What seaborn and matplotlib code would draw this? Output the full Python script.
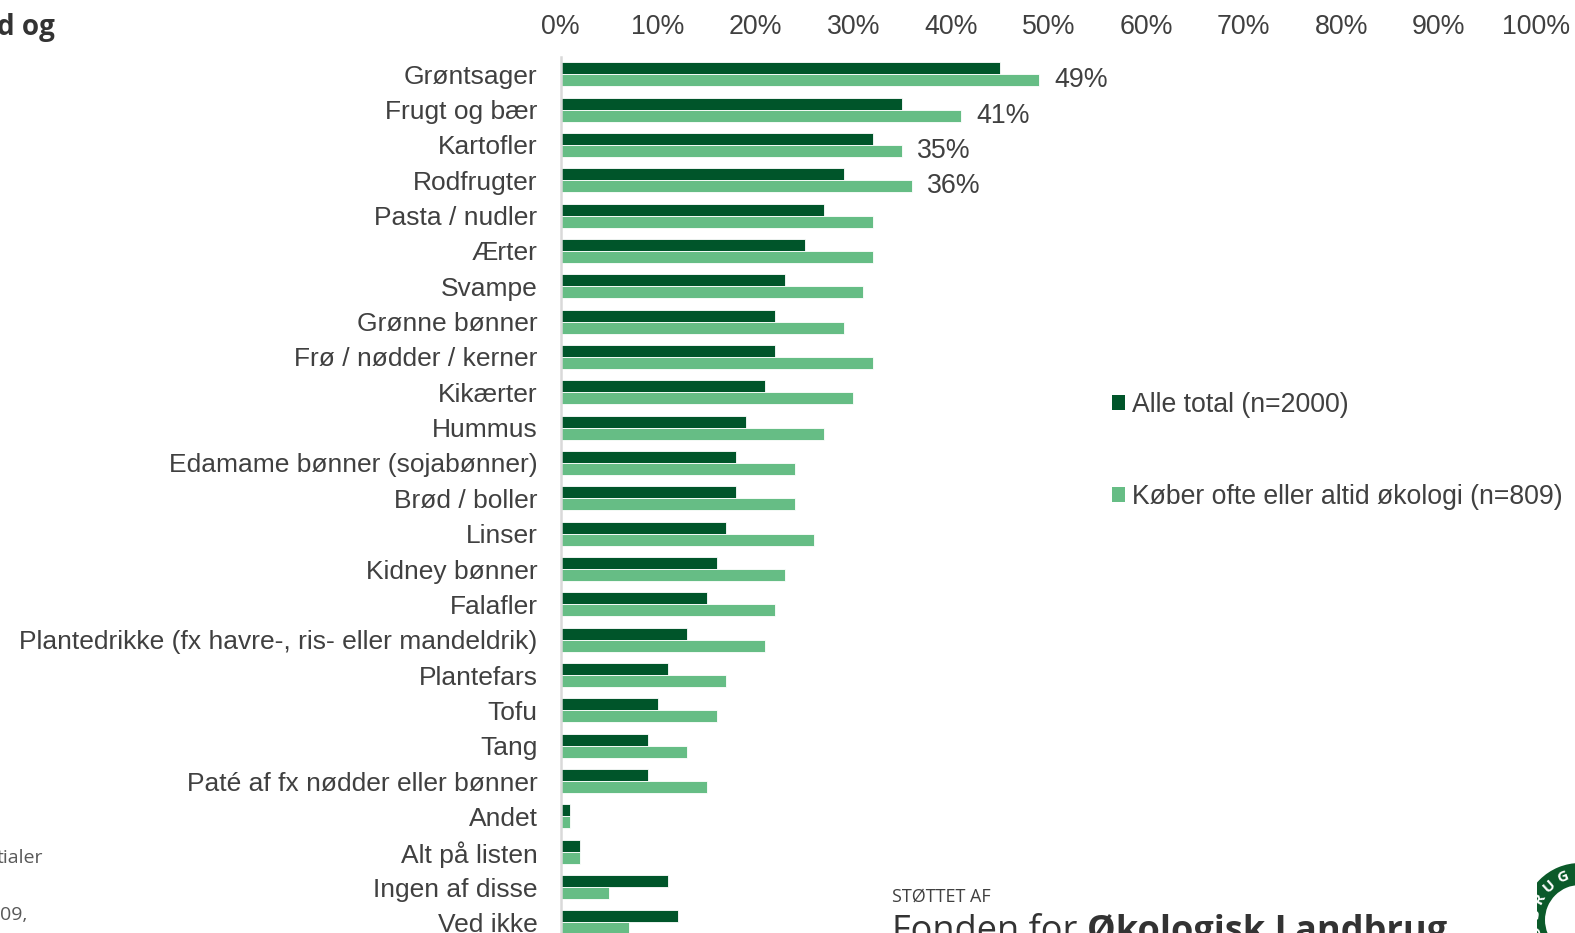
import matplotlib
matplotlib.use("Agg")
import matplotlib.pyplot as plt
import seaborn as sns
import pandas as pd
import numpy as np
from matplotlib.patches import Wedge, Patch

categories = ["Grøntsager", "Frugt og bær", "Kartofler", "Rodfrugter", "Pasta / nudler",
              "Ærter", "Svampe", "Grønne bønner", "Frø / nødder / kerner", "Kikærter",
              "Hummus", "Edamame bønner (sojabønner)", "Brød / boller", "Linser",
              "Kidney bønner", "Falafler", "Plantedrikke (fx havre-, ris- eller mandeldrik)",
              "Plantefars", "Tofu", "Tang", "Paté af fx nødder eller bønner", "Andet",
              "Alt på listen", "Ingen af disse", "Ved ikke"]
alle_total = [45, 35, 32, 29, 27, 25, 23, 22, 22, 21, 19, 18, 18, 17, 16, 15, 13, 11, 10, 9, 9, 1, 2, 11, 12]
oeko = [49, 41, 35, 36, 32, 32, 31, 29, 32, 30, 27, 24, 24, 26, 23, 22, 21, 17, 16, 13, 15, 1, 2, 5, 7]
series_names = ["Alle total (n=2000)", "Køber ofte eller altid økologi (n=809)"]
labelled = ["49%", "41%", "35%", "36%"]
ticks = [0, 10, 20, 30, 40, 50, 60, 70, 80, 90, 100]
tick_labels = [f"{t}%" for t in ticks]

dark = "#00552A"
light = "#66BD85"
txt = "#404040"

df = pd.DataFrame({
    "kategori": categories * 2,
    "værdi": alle_total + oeko,
    "serie": [series_names[0]] * len(categories) + [series_names[1]] * len(categories),
})

sns.set_theme(style="white")
plt.rcParams["font.family"] = ["Liberation Sans", "DejaVu Sans"]

W, H = 1575, 933
fig = plt.figure(figsize=(W / 100, H / 100), dpi=100)
top_px = 56.6
ax_left, ax_right = 560.5, 1536.5
ax = fig.add_axes([ax_left / W, 0, (ax_right - ax_left) / W, (H - top_px) / H])

sns.barplot(data=df, y="kategori", x="værdi", hue="serie", orient="h",
            palette=[dark, light], width=0.68, edgecolor="white", linewidth=0.6,
            saturation=1, ax=ax, legend=False)

ax.set_xlim(0, 100)
ax.set_ylim(24.3, -0.5)
ax.set_xlabel("")
ax.set_ylabel("")
ax.xaxis.tick_top()
ax.set_xticks(ticks)
ax.set_xticklabels(tick_labels, fontsize=19.3, color=txt)
ax.tick_params(axis="x", length=0, pad=12)
ax.tick_params(axis="y", length=0, pad=16.5, labelsize=19, labelcolor=txt)
for s in ["top", "right", "bottom"]:
    ax.spines[s].set_visible(False)
ax.spines["left"].set_color("#D9D9D9")
ax.spines["left"].set_linewidth(1.8)
ax.grid(False)

cont = ax.containers[1]
lbls = labelled + [""] * (len(categories) - len(labelled))
ax.bar_label(cont, labels=lbls, padding=11, fontsize=19.3, color=txt)

handles = [Patch(facecolor=dark, edgecolor="none"), Patch(facecolor=light, edgecolor="none")]
fig.legend(handles, series_names, loc="center left",
           bbox_to_anchor=(1088 / W, 1 - 451 / H), frameon=False, fontsize=19.2,
           handlelength=0.5, handleheight=0.5, handletextpad=0.25, labelspacing=2.5,
           labelcolor=txt)

# slide fragments around the chart
fig.text(55 / W, 1 - 28 / H, "d og", ha="right", va="center", fontsize=20,
         fontweight="bold", color="#333333", family=["Open Sans", "DejaVu Sans"])
fig.text(43 / W, 1 - 858 / H, "tialer", ha="right", va="center", fontsize=14,
         color="#595959", family=["Open Sans", "DejaVu Sans"])
fig.text(27 / W, 1 - 915 / H, "09,", ha="right", va="center", fontsize=14,
         color="#595959", family=["Open Sans", "DejaVu Sans"])
fig.text(892 / W, 1 - 897 / H, "STØTTET AF", ha="left", va="center", fontsize=13,
         color="#404040", family=["Open Sans", "DejaVu Sans"])
t1 = fig.text(892 / W, 1 - 914 / H, "Fonden for ", ha="left", va="top", fontsize=26,
              color="#333333", family=["Open Sans", "DejaVu Sans"])
fig.canvas.draw()
bb = t1.get_window_extent()
fig.text(bb.x1 / W, 1 - 914 / H, "Økologisk Landbrug", ha="left", va="top", fontsize=26,
         fontweight="bold", color="#333333", family=["Open Sans", "DejaVu Sans"])

# logo ring
lax = fig.add_axes([0, 0, 1, 1], zorder=-1)
lax.set_xlim(0, W)
lax.set_ylim(H, 0)
lax.axis("off")
cx, cy, r_out, r_in = 1580, 920, 57, 35
lax.add_patch(Wedge((cx, cy), r_out, 0, 360, width=r_out - r_in, facecolor="#0B5A2A", edgecolor="none"))
letters = "NDBRUG"
angs = [214, 193, 172, 152, 132, 112]
rm = (r_out + r_in) / 2
for ch, a in zip(letters, angs):
    rad = np.deg2rad(a)
    x = cx + rm * np.cos(rad)
    y = cy - rm * np.sin(rad)
    lax.text(x, y, ch, color="white", fontsize=11, fontweight="bold", ha="center", va="center",
             rotation=a - 90, family=["Open Sans", "DejaVu Sans"])

fig.savefig("out.png", dpi=100)
